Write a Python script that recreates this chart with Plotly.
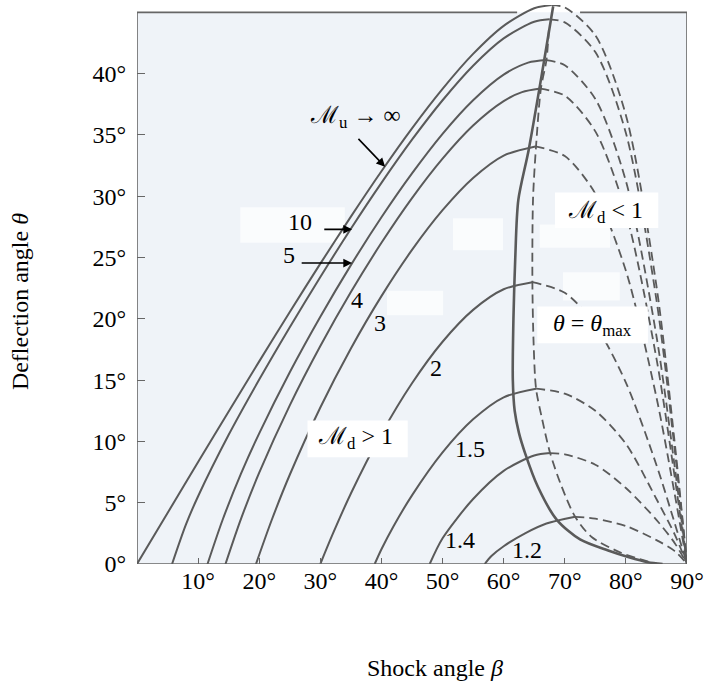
import plotly.graph_objects as go

# Oblique-shock chart: deflection angle theta vs shock angle beta (degrees)
# Weak branch (solid, up to the maximum) and strong branch (dashed) per upstream Mach number.

b_inf_w = [0, 5, 10, 15, 20, 25, 30, 35, 40, 45, 50, 55, 60, 65, 67.8]
t_inf_w = [0, 4.16, 8.32, 12.44, 16.53, 20.56, 24.50, 28.34, 32.04, 35.54, 38.76, 41.61, 43.90, 45.33, 45.59]
b_inf_s = [67.8, 70, 75, 80, 85, 88, 89, 90]
t_inf_s = [45.59, 45.40, 43.12, 36.61, 22.69, 9.84, 4.98, 0]

b_10_w = [5.74, 8, 10, 15, 20, 25, 30, 35, 40, 45, 50, 55, 60, 65, 67.5]
t_10_w = [0, 3.21, 5.53, 10.54, 15.05, 19.32, 23.41, 27.35, 31.09, 34.61, 37.83, 40.65, 42.88, 44.23, 44.43]
b_10_s = [67.5, 70, 75, 80, 85, 88, 89, 90]
t_10_s = [44.43, 44.18, 41.76, 35.16, 21.55, 9.28, 4.70, 0]

b_5_w = [11.54, 14, 17, 20, 25, 30, 35, 40, 45, 50, 55, 60, 64, 67]
t_5_w = [0, 3.59, 7.35, 10.66, 15.64, 20.17, 24.38, 28.28, 31.86, 35.09, 37.83, 39.92, 40.90, 41.11]
b_5_s = [67, 70, 75, 80, 85, 88, 89, 90]
t_5_s = [41.11, 40.68, 37.93, 31.24, 18.60, 7.90, 3.99, 0]

b_4_w = [14.48, 17, 20, 25, 30, 35, 40, 45, 50, 55, 60, 63, 66]
t_4_w = [0, 3.66, 7.45, 12.94, 17.78, 22.18, 26.20, 29.85, 33.07, 35.77, 37.76, 38.49, 38.78]
b_4_s = [66, 70, 75, 80, 85, 88, 89, 90]
t_4_s = [38.78, 38.20, 35.29, 28.65, 16.77, 7.06, 3.56, 0]

b_3_w = [19.47, 22, 25, 30, 35, 40, 45, 50, 55, 60, 65.2]
t_3_w = [0, 3.53, 7.28, 12.77, 17.58, 21.85, 25.62, 28.86, 31.49, 33.32, 34.06]
b_3_s = [65.2, 70, 75, 80, 85, 88, 89, 90]
t_3_s = [34.06, 33.28, 30.21, 23.92, 13.60, 5.67, 2.85, 0]

b_2_w = [30, 32, 35, 40, 45, 50, 55, 60, 64.7]
t_2_w = [0, 2.41, 5.75, 10.62, 14.74, 18.13, 20.73, 22.41, 22.99]
b_2_s = [64.7, 70, 75, 80, 85, 88, 89, 90]
t_2_s = [22.99, 22.12, 19.49, 14.80, 8.08, 3.31, 1.66, 0]

b_15_w = [38.9, 40, 42, 45, 50, 55, 60, 65.3]
t_15_w = [0, 1.2, 3.1, 5.6, 9.1, 11.8, 13.6, 14.3]
b_15_s = [65.3, 70, 75, 80, 85, 88, 90]
t_15_s = [14.3, 13.9, 12.5, 9.8, 5.3, 2.4, 0]

b_14_w = [47.9, 50, 55, 60, 65, 67.6]
t_14_w = [0, 2.1, 5.3, 7.6, 8.85, 9.05]
b_14_s = [67.6, 70, 75, 80, 85, 88, 90]
t_14_s = [9.05, 8.95, 8.1, 6.2, 3.6, 1.7, 0]

b_12_w = [56.9, 58, 60, 63.5, 67, 71.7]
t_12_w = [0, 0.65, 1.45, 2.5, 3.3, 3.85]
b_12_s = [71.7, 75, 80, 85, 88, 90]
t_12_s = [3.85, 3.7, 3.1, 1.95, 1.05, 0]

# Sonic line (downstream Mach number = 1), solid
b_sonic = [68.1, 66.5, 64.1, 62.4, 61.9, 61.6, 61.5, 61.8, 62.5, 63.5, 65.6, 68.7, 72.5, 77.1, 80.5, 83.6, 86.0]
t_sonic = [45.5, 40.7, 33.8, 29.7, 25.0, 20.0, 15.0, 12.5, 10.7, 9.05, 6.3, 3.6, 2.0, 1.1, 0.55, 0.15, 0]

# Locus of maximum deflection, dashed
b_tmax = [67.4, 67.0, 66.1, 65.3, 64.8, 64.7, 64.9, 65.3, 66.3, 67.6, 69.5, 71.7, 74.4, 79.3, 83.0, 85.0]
t_tmax = [43.6, 41.1, 38.8, 34.1, 29.7, 23.0, 18.0, 14.3, 11.8, 9.05, 6.3, 3.85, 2.2, 0.9, 0.3, 0]

x_ticks = [10, 20, 30, 40, 50, 60, 70, 80, 90]
y_ticks = [0, 5, 10, 15, 20, 25, 30, 35, 40, 45]

LINE = "#5a5a5a"
FONT = "Liberation Serif, DejaVu Serif, serif"
DASH = "9px,5px"

fig = go.Figure()


def curve(b, t, dashed=False, width=2.0):
    fig.add_trace(go.Scatter(
        x=b, y=t, mode="lines", hoverinfo="skip", showlegend=False,
        line=dict(color=LINE, width=width, shape="spline", smoothing=0.8,
                  dash=DASH if dashed else "solid")))


weak = [(b_inf_w, t_inf_w), (b_10_w, t_10_w), (b_5_w, t_5_w), (b_4_w, t_4_w),
        (b_3_w, t_3_w), (b_2_w, t_2_w), (b_15_w, t_15_w), (b_14_w, t_14_w), (b_12_w, t_12_w)]
strong = [(b_inf_s, t_inf_s), (b_10_s, t_10_s), (b_5_s, t_5_s), (b_4_s, t_4_s),
          (b_3_s, t_3_s), (b_2_s, t_2_s), (b_15_s, t_15_s), (b_14_s, t_14_s), (b_12_s, t_12_s)]

for b, t in strong:
    curve(b, t, dashed=True, width=1.8)
curve(b_tmax, t_tmax, dashed=True, width=1.8)
for b, t in weak:
    curve(b, t, width=2.0)
curve(b_sonic, t_sonic, width=2.6)

shapes = []
# plate background
shapes.append(dict(type="rect", xref="x", yref="y", x0=0, x1=90, y0=0, y1=45,
                   fillcolor="#eff3f8", line=dict(width=0), layer="below"))
# lighter patches on the plate
for x0, x1, y0, y1 in [(16.9, 34.0, 26.2, 29.1), (51.7, 59.9, 25.6, 28.2),
                       (40.9, 50.1, 20.3, 22.3), (65.9, 77.4, 25.8, 27.7),
                       (69.7, 79.0, 21.5, 23.8)]:
    shapes.append(dict(type="rect", xref="x", yref="y", x0=x0, x1=x1, y0=y0, y1=y1,
                       fillcolor="rgba(255,255,255,0.7)", line=dict(width=0), layer="below"))
# frame (top edge interrupted where the curves rise above it)
for x0, y0, x1, y1 in [(0, 0, 0, 45), (0, 0, 90, 0), (90, 0, 90, 45),
                       (0, 45, 62.2, 45), (72.5, 45, 90, 45)]:
    shapes.append(dict(type="line", xref="x", yref="y", x0=x0, y0=y0, x1=x1, y1=y1,
                       line=dict(color="#666666", width=1.6), layer="below"))
# white label boxes
for x0, x1, y0, y1 in [(27.9, 44.3, 8.7, 11.7), (68.4, 85.3, 27.4, 30.3),
                       (65.5, 83.6, 18.0, 21.0)]:
    shapes.append(dict(type="rect", xref="x", yref="y", x0=x0, x1=x1, y0=y0, y1=y1,
                       fillcolor="white", line=dict(width=0), layer="above"))

annotations = []


def label(x, y, text, size=24):
    annotations.append(dict(x=x, y=y, xref="x", yref="y", text=text, showarrow=False,
                            font=dict(family=FONT, size=size, color="black")))


def arrow(x_tail, y_tail, x_head, y_head):
    annotations.append(dict(x=x_head, y=y_head, ax=x_tail, ay=y_tail, xref="x", yref="y",
                            axref="x", ayref="y", text="", showarrow=True, arrowhead=2,
                            arrowsize=1.1, arrowwidth=1.6, arrowcolor="black"))


label(35.8, 36.5, "ℳ<sub>u</sub> → ∞")
arrow(36.0, 34.8, 40.6, 32.4)
label(26.7, 27.9, "10")
arrow(30.4, 27.3, 35.2, 27.3)
label(24.9, 25.2, "5")
arrow(26.7, 24.55, 35.2, 24.55)
label(36.0, 21.5, "4")
label(39.8, 19.7, "3")
label(48.9, 16.0, "2")
label(54.5, 9.4, "1.5")
label(52.9, 1.96, "1.4")
label(63.8, 1.14, "1.2")
label(35.8, 10.3, "ℳ<sub>d</sub> > 1")
label(76.6, 28.7, "ℳ<sub>d</sub> < 1")
label(74.5, 19.5, "<i>θ</i> = <i>θ</i><sub>max</sub>")

annotations.append(dict(x=-0.213, y=0.47, xref="paper", yref="paper", text="Deflection angle <i>θ</i>",
                        textangle=-90, showarrow=False, xanchor="center", yanchor="middle",
                        font=dict(family=FONT, size=24, color="black")))
annotations.append(dict(x=0.542, y=-0.186, xref="paper", yref="paper", text="Shock angle <i>β</i>",
                        showarrow=False, xanchor="center", yanchor="middle",
                        font=dict(family=FONT, size=24, color="black")))

fig.update_layout(
    width=712, height=686,
    margin=dict(l=137, r=25, t=5, b=122),
    paper_bgcolor="white", plot_bgcolor="white",
    font=dict(family=FONT, size=24, color="black"),
    shapes=shapes, annotations=annotations,
    xaxis=dict(range=[0, 90], tickvals=x_ticks, ticktext=[f"{v}°" for v in x_ticks],
               ticks="inside", ticklen=6, tickwidth=1.4, tickcolor="#666666",
               showgrid=False, zeroline=False, showline=False, fixedrange=True),
    yaxis=dict(range=[0, 45.6], tickvals=y_ticks, ticktext=[f"{v}°" for v in y_ticks],
               ticks="inside", ticklen=8, tickwidth=1.4, tickcolor="#666666",
               ticklabelstandoff=10,
               showgrid=False, zeroline=False, showline=False, fixedrange=True),
)

fig.write_html("out.html")
